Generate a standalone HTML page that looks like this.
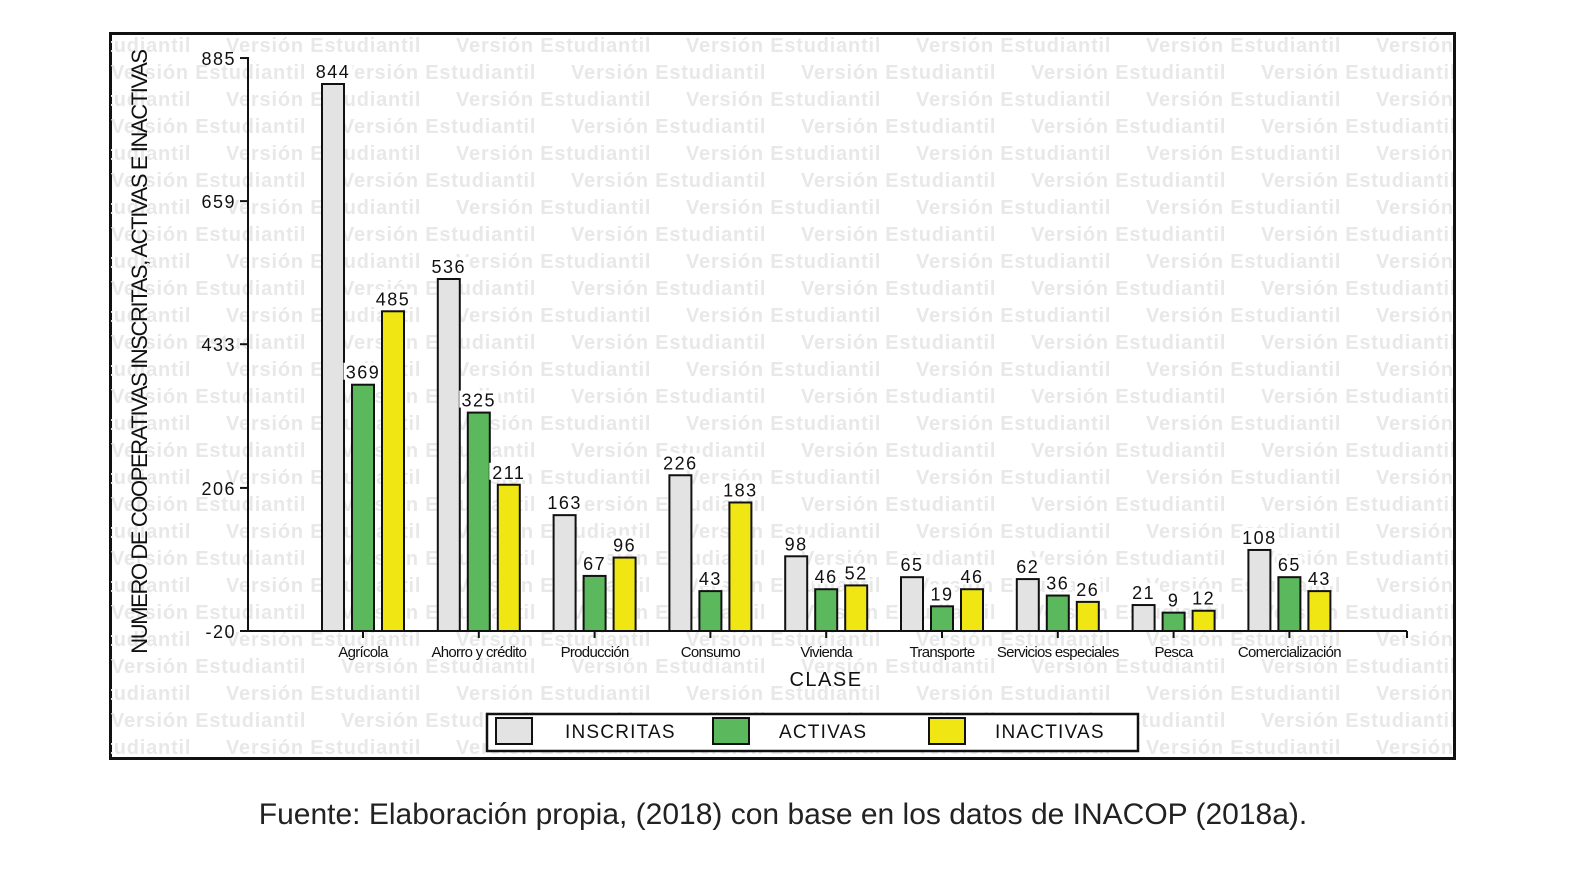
<!DOCTYPE html>
<html><head><meta charset="utf-8"><style>
body{margin:0;background:#fff;width:1576px;height:878px;overflow:hidden}
svg{display:block}
</style></head><body>
<svg id="s" width="1576" height="878" xmlns="http://www.w3.org/2000/svg" font-family="Liberation Sans, sans-serif">
<defs><clipPath id="c"><rect x="111" y="34" width="1342" height="723"/></clipPath></defs>
<rect x="110.5" y="33.5" width="1344" height="725" fill="#fff" stroke="#111" stroke-width="3"/>
<g clip-path="url(#c)" fill="#e8e8e8" font-size="20" font-weight="bold" letter-spacing="0.8" id="wm"></g>
<g id="chart"></g>
<text x="783" y="824" font-size="30" text-anchor="middle" fill="#222">Fuente: Elaboración propia, (2018) con base en los datos de INACOP (2018a).</text>
</svg>
<script>
var NS="http://www.w3.org/2000/svg";
var wm=document.getElementById('wm');
for(var r=0;r<27;r++){var y=52+r*27;var off=(r%2==0)?-4:111;
 for(var k=-1;k<7;k++){var t=document.createElementNS(NS,'text');t.setAttribute('x',off+k*230);t.setAttribute('y',y);t.textContent='Versión Estudiantil';wm.appendChild(t);}}
var g=document.getElementById('chart');var h='';
function Y(v){return 631-(v+20)*0.6331;}
h+='<line x1="248" y1="57" x2="248" y2="631" stroke="#111" stroke-width="2"/>';
h+='<line x1="248" y1="631" x2="1407" y2="631" stroke="#111" stroke-width="2"/>';
h+='<line x1="1407" y1="631" x2="1407" y2="638" stroke="#111" stroke-width="2"/>';
[885,659,433,206,-20].forEach(function(v){var y=Y(v);h+='<line x1="240" y1="'+y+'" x2="248" y2="'+y+'" stroke="#111" stroke-width="2"/><text x="236" y="'+(y+7)+'" font-size="18" text-anchor="end" fill="#111" letter-spacing="1.5">'+v+'</text>';});
var cats=['Agrícola','Ahorro y crédito','Producción','Consumo','Vivienda','Transporte','Servicios especiales','Pesca','Comercialización'];
var d=[[844,369,485],[536,325,211],[163,67,96],[226,43,183],[98,46,52],[65,19,46],[62,36,26],[21,9,12],[108,65,43]];
var cols=['#e3e3e3','#5cb85c','#f0e614'];
for(var i=0;i<9;i++){var x0=322+115.8*i;
 for(var j=0;j<3;j++){var x=x0+30*j,y=Y(d[i][j]);var n=String(d[i][j]).length;
  h+='<rect x="'+x+'" y="'+y+'" width="22" height="'+(631-y)+'" fill="'+cols[j]+'" stroke="#111" stroke-width="2"/>';
  h+='<rect x="'+(x+11-n*6.5)+'" y="'+(y-22)+'" width="'+(n*13)+'" height="17" fill="#fff"/>';
  h+='<text x="'+(x+11)+'" y="'+(y-6)+'" font-size="18" text-anchor="middle" fill="#111" letter-spacing="1.5">'+d[i][j]+'</text>';}
 var cx=363+115.8*i;
 h+='<line x1="'+cx+'" y1="631" x2="'+cx+'" y2="638" stroke="#111" stroke-width="2"/>';
 h+='<text x="'+cx+'" y="657" font-size="15" text-anchor="middle" fill="#111" letter-spacing="-0.7">'+cats[i]+'</text>';}
h+='<text x="826" y="686" font-size="20" text-anchor="middle" fill="#111" letter-spacing="1.5">CLASE</text>';
h+='<text transform="translate(147,352) rotate(-90)" font-size="22" text-anchor="middle" fill="#111" letter-spacing="-1.4">NUMERO DE COOPERATIVAS INSCRITAS, ACTIVAS E INACTIVAS</text>';
h+='<rect x="487" y="714" width="651" height="37" fill="#fff" stroke="#111" stroke-width="2.5"/>';
var lx=[[496,'INSCRITAS',565],[713,'ACTIVAS',779],[929,'INACTIVAS',995]];
lx.forEach(function(l,j){h+='<rect x="'+l[0]+'" y="718" width="36" height="26" fill="'+cols[j]+'" stroke="#111" stroke-width="2"/><text x="'+l[2]+'" y="738" font-size="19" fill="#111" letter-spacing="1.2">'+l[1]+'</text>';});
g.innerHTML=h;
</script>
</body></html>
